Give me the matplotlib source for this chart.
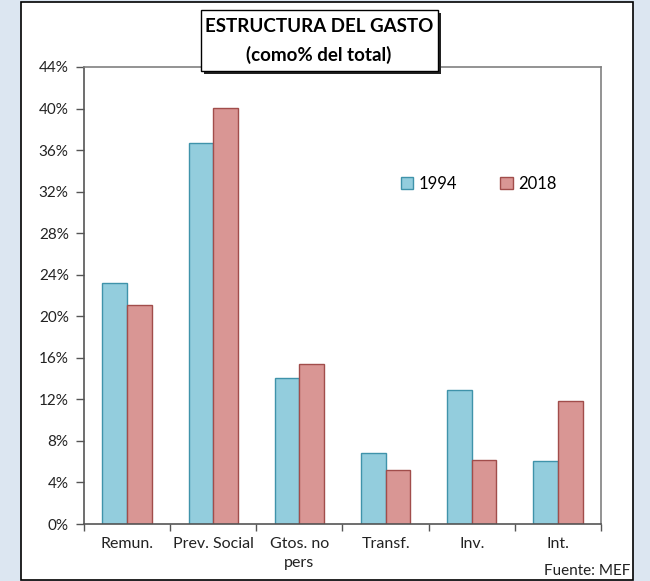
import matplotlib
matplotlib.use("Agg")
import matplotlib.pyplot as plt
from matplotlib.patches import Rectangle
import numpy as np

categories = ["Remun.", "Prev. Social", "Gtos. no\npers", "Transf.", "Inv.", "Int."]
v1994 = [23.25, 36.7, 14.05, 6.85, 12.9, 6.05]
v2018 = [21.1, 40.1, 15.4, 5.2, 6.2, 11.85]
yticks = [0, 4, 8, 12, 16, 20, 24, 28, 32, 36, 40, 44]
series_labels = ["1994", "2018"]

plt.rcParams['font.family'] = ['Lato', 'DejaVu Sans']

W, H = 650, 581
fig = plt.figure(figsize=(W/100, H/100), dpi=100, facecolor='#dce6f1')

def fx(px): return px / W
def fy(py): return 1 - py / H

# white panel
fig.patches.append(Rectangle((fx(21), fy(580)), fx(633) - fx(21), fy(2) - fy(580),
                             transform=fig.transFigure, facecolor='white',
                             edgecolor='black', linewidth=1.2, zorder=-5))

ax = fig.add_axes([fx(84), fy(524), fx(601) - fx(84), fy(67) - fy(524)])
ax.set_zorder(1)
ax.patch.set_alpha(0)
x = np.arange(len(categories))
bw = 0.286
ax.bar(x - bw/2, v1994, width=bw, color='#93cddd', edgecolor='#3f93aa', linewidth=1.0, label=series_labels[0])
ax.bar(x + bw/2, v2018, width=bw, color='#d99694', edgecolor='#a14d4b', linewidth=1.0, label=series_labels[1])

ax.set_xlim(-0.5, len(categories) - 0.5)
ax.set_ylim(0, 44)
ax.set_yticks(yticks)
ax.set_yticklabels([f"{t}%" for t in yticks], fontsize=11, color='#222222')
ax.set_xticks(x)
ax.set_xticklabels(categories, fontsize=11.5, color='#222222', linespacing=1.5)
ax.set_xticks(np.arange(-0.5, len(categories)), minor=True)
ax.tick_params(axis='x', which='major', length=0, pad=9)
ax.tick_params(axis='x', which='minor', length=5, width=1, color='#555555', direction='out')
ax.tick_params(axis='y', length=6, width=1, color='#555555', direction='out', pad=5)
for s in ax.spines.values():
    s.set_color('#808080')
    s.set_linewidth(1.2)
ax.spines['left'].set_color('#555555')
ax.spines['bottom'].set_color('#555555')

ax.legend(loc='center left', bbox_to_anchor=(0.597, 0.744), ncol=2, frameon=False,
          fontsize=12, handlelength=0.75, handleheight=0.75, handletextpad=0.3,
          columnspacing=2.6, borderpad=0)

# title box with shadow
bx0, bx1, by0, by1 = 201, 438, 10, 71
fig.patches.append(Rectangle((fx(bx0 + 3), fy(by1 + 3)), fx(bx1) - fx(bx0), fy(by0) - fy(by1),
                             transform=fig.transFigure, facecolor='#222222',
                             edgecolor='none', zorder=5))
fig.patches.append(Rectangle((fx(bx0), fy(by1)), fx(bx1) - fx(bx0), fy(by0) - fy(by1),
                             transform=fig.transFigure, facecolor='white',
                             edgecolor='black', linewidth=1.0, zorder=6))
fig.text(fx(319), fy(27), "ESTRUCTURA DEL GASTO", ha='center', va='center',
         fontsize=13.5, fontweight='bold', zorder=7)
fig.text(fx(319), fy(55), "(como% del total)", ha='center', va='center',
         fontsize=13.5, fontweight='bold', zorder=7)

fig.text(fx(630), fy(571), "Fuente: MEF", ha='right', va='center', fontsize=11, color='#222222')

fig.savefig("out.png", dpi=100, facecolor=fig.get_facecolor())
